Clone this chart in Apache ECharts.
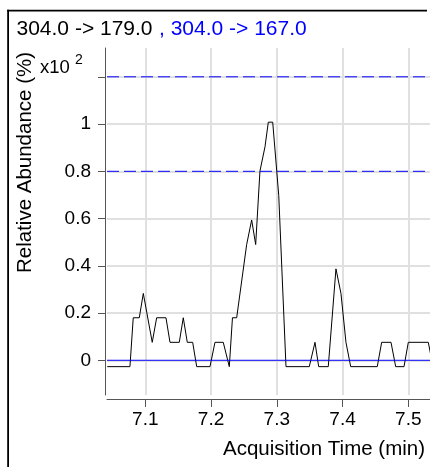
<!DOCTYPE html>
<html>
<head>
<meta charset="utf-8">
<script src="https://cdn.jsdelivr.net/npm/echarts@6/dist/echarts.min.js"></script>
<style>
  html, body { margin: 0; padding: 0; background: #fff; overflow: hidden; }
  #chart { width: 430px; height: 467px; }
</style>
</head>
<body>
<div id="chart"></div>
<script>
// Quantifier transition 304.0 -> 179.0 (relative abundance, x10^2 %)
const times = [7.0422, 7.0767, 7.0817, 7.0909, 7.0970, 7.1106, 7.1173, 7.1315, 7.1376, 7.1517,
               7.1578, 7.1639, 7.1721, 7.1782, 7.1984, 7.2060, 7.2186, 7.2278, 7.2326, 7.2390,
               7.2542, 7.2618, 7.2679, 7.2744, 7.2821, 7.2871, 7.2938, 7.3030, 7.3140, 7.3494,
               7.3581, 7.3637, 7.3783, 7.3900, 7.3976, 7.4052, 7.4124, 7.4528, 7.4595, 7.4737,
               7.4808, 7.4935, 7.5000, 7.5304, 7.5376];
const abundance = [-0.027, -0.027, 0.18, 0.18, 0.283, 0.076, 0.18, 0.18, 0.076, 0.076,
                   0.18, 0.076, 0.076, -0.027, -0.027, 0.076, 0.076, -0.027, 0.18, 0.18,
                   0.49, 0.594, 0.49, 0.801, 0.904, 1.008, 1.008, 0.697, -0.027, -0.027,
                   0.076, -0.027, -0.027, 0.387, 0.283, 0.076, -0.027, -0.027, 0.076, 0.076,
                   -0.027, -0.027, 0.076, 0.076, -0.027];

// Qualifier transition 304.0 -> 167.0 and its ratio limits
const qualifierTimes = [7.0418, 7.533];
const qualifierAbundance = [0, 0];
const qualifierLimits = [0.8, 1.2];

// Axes
const xRange = [7.0418, 7.533];
const yRange = [-0.147, 1.322];
const xTicks = [7.1, 7.2, 7.3, 7.4, 7.5];
const yTicks = [0, 0.2, 0.4, 0.6, 0.8, 1, 1.2];
const yLabels = [0, 0.2, 0.4, 0.6, 0.8, 1];

const FONT = '"Liberation Sans", Arial, sans-serif';
const AXIS_GREY = '#555';
const GRID_GREY = '#e0e0e0';
const BLUE = '#0000ff';

const chart = echarts.init(document.getElementById('chart'), null, { renderer: 'canvas' });

// Each qualifier limit is drawn as a dashed horizontal line spanning the time range
const limitSeries = qualifierLimits.map(limit => ({
  name: 'limit ' + limit,
  type: 'line',
  data: qualifierTimes.map(t => [t, limit]),
  symbol: 'none',
  clip: true,
  silent: true,
  z: 5,
  color: BLUE,
  itemStyle: { color: BLUE },
  lineStyle: { color: BLUE, width: 1, type: [12, 5] }
}));

chart.setOption({
  animation: false,
  backgroundColor: '#fff',
  grid: { left: 107, right: 0, top: 48, bottom: 72, containLabel: false },
  xAxis: {
    type: 'value',
    min: xRange[0],
    max: xRange[1],
    offset: 4,
    axisLine: { show: true, onZero: false, lineStyle: { color: AXIS_GREY, width: 1 } },
    axisTick: { show: true, customValues: xTicks, length: 8, lineStyle: { color: AXIS_GREY, width: 1 } },
    axisLabel: {
      show: true, customValues: xTicks, margin: 11,
      fontSize: 19, fontFamily: FONT, color: '#000',
      formatter: v => v.toFixed(1)
    },
    splitLine: { show: true, lineStyle: { color: GRID_GREY, width: 2 } }
  },
  yAxis: {
    type: 'value',
    min: yRange[0],
    max: yRange[1],
    offset: 2,
    axisLine: { show: true, onZero: false, lineStyle: { color: AXIS_GREY, width: 1 } },
    axisTick: { show: true, customValues: yTicks, length: 7, lineStyle: { color: AXIS_GREY, width: 1 } },
    axisLabel: {
      show: true, customValues: yLabels, margin: 14,
      fontSize: 19, fontFamily: FONT, color: '#000',
      formatter: v => String(Math.round(v * 10) / 10)
    },
    splitLine: { show: true, lineStyle: { color: GRID_GREY, width: 2 } }
  },
  series: [
    ...limitSeries,
    {
      name: '304.0 -> 179.0',
      type: 'line',
      data: times.map((t, i) => [t, abundance[i]]),
      symbol: 'none',
      clip: true,
      silent: true,
      z: 3,
      itemStyle: { color: '#000' },
      lineStyle: { color: '#000', width: 1 }
    },
    {
      name: '304.0 -> 167.0',
      type: 'line',
      data: qualifierTimes.map((t, i) => [t, qualifierAbundance[i]]),
      symbol: 'none',
      clip: true,
      silent: true,
      z: 4,
      color: BLUE,
      itemStyle: { color: BLUE },
      lineStyle: { color: BLUE, width: 1 }
    }
  ],
  graphic: [
    {
      // panel frame, left edge
      type: 'rect', silent: true, z: 100,
      shape: { x: 7.2, y: 9.8, width: 1.8, height: 460 },
      style: { fill: '#000', stroke: null }
    },
    {
      // panel frame, top edge
      type: 'rect', silent: true, z: 100,
      shape: { x: 7.2, y: 9.8, width: 419.8, height: 1.8 },
      style: { fill: '#000', stroke: null }
    },
    {
      type: 'text', silent: true, x: 16.5, y: 29,
      style: { text: '304.0 -> 179.0', fill: '#000', fontSize: 21, fontFamily: FONT, align: 'left', verticalAlign: 'middle' }
    },
    {
      type: 'text', silent: true, x: 159, y: 29,
      style: { text: ', 304.0 -> 167.0', fill: BLUE, fontSize: 21, fontFamily: FONT, align: 'left', verticalAlign: 'middle' }
    },
    {
      type: 'text', silent: true, x: 40, y: 67.5,
      style: { text: 'x10', fill: '#000', fontSize: 18.5, fontFamily: FONT, align: 'left', verticalAlign: 'middle' }
    },
    {
      type: 'text', silent: true, x: 75, y: 60,
      style: { text: '2', fill: '#000', fontSize: 14, fontFamily: FONT, align: 'left', verticalAlign: 'middle' }
    },
    {
      type: 'text', silent: true, x: 25, y: 162.5, rotation: Math.PI / 2,
      style: { text: 'Relative Abundance (%)', fill: '#000', fontSize: 20.5, fontFamily: FONT, align: 'center', verticalAlign: 'middle' }
    },
    {
      type: 'text', silent: true, x: 425, y: 449.5,
      style: { text: 'Acquisition Time (min)', fill: '#000', fontSize: 20.5, fontFamily: FONT, align: 'right', verticalAlign: 'middle' }
    }
  ]
});
</script>
</body>
</html>
